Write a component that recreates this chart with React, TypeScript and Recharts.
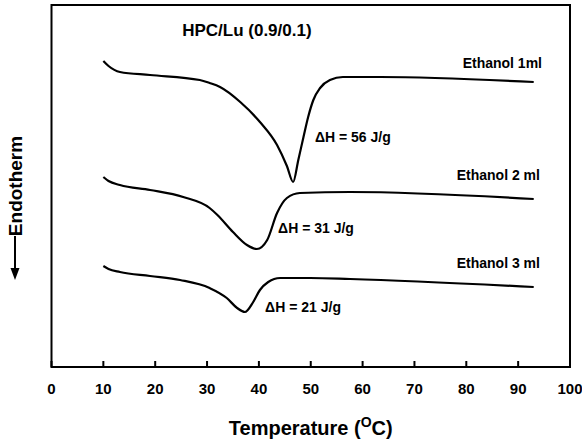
import {
  LineChart,
  Line,
  XAxis,
  YAxis,
  ReferenceArea,
  ReferenceDot,
} from "recharts";

// DSC thermograms, heat flow in arbitrary units vs temperature (°C)
const ethanol1 = [
  { t: 10, hf: 30.6 },
  { t: 11, hf: 30.1 },
  { t: 13.2, hf: 29.5 },
  { t: 19, hf: 29.2 },
  { t: 28.6, hf: 28.7 },
  { t: 30.5, hf: 28.4 },
  { t: 32.5, hf: 28.0 },
  { t: 36.4, hf: 26.5 },
  { t: 40.2, hf: 24.5 },
  { t: 43.5, hf: 22.2 },
  { t: 45.4, hf: 20.1 },
  { t: 46.6, hf: 18.5 },
  { t: 47.6, hf: 20.7 },
  { t: 48.6, hf: 23.0 },
  { t: 49.5, hf: 25.0 },
  { t: 50.5, hf: 26.7 },
  { t: 51.8, hf: 27.9 },
  { t: 53.7, hf: 28.7 },
  { t: 56.2, hf: 29.0 },
  { t: 63.4, hf: 29.0 },
  { t: 93, hf: 28.5 },
];

const ethanol2 = [
  { t: 10, hf: 19.0 },
  { t: 11, hf: 18.6 },
  { t: 13.2, hf: 18.2 },
  { t: 19, hf: 17.7 },
  { t: 25.4, hf: 17.0 },
  { t: 30.5, hf: 15.9 },
  { t: 32, hf: 15.2 },
  { t: 35, hf: 13.5 },
  { t: 37.7, hf: 12.2 },
  { t: 39.6, hf: 11.8 },
  { t: 41.6, hf: 12.7 },
  { t: 43.5, hf: 15.4 },
  { t: 45.4, hf: 16.9 },
  { t: 47.9, hf: 17.4 },
  { t: 57.6, hf: 17.5 },
  { t: 93, hf: 16.8 },
];

const ethanol3 = [
  { t: 10, hf: 10.1 },
  { t: 11, hf: 9.8 },
  { t: 13.2, hf: 9.5 },
  { t: 19, hf: 9.1 },
  { t: 24.8, hf: 8.7 },
  { t: 30.5, hf: 7.9 },
  { t: 33.8, hf: 6.9 },
  { t: 35.8, hf: 5.9 },
  { t: 37.3, hf: 5.5 },
  { t: 38.9, hf: 6.5 },
  { t: 40.2, hf: 7.7 },
  { t: 41.8, hf: 8.5 },
  { t: 44.1, hf: 8.9 },
  { t: 49.9, hf: 8.9 },
  { t: 57.6, hf: 8.8 },
  { t: 93, hf: 8.0 },
];

const xTicks = [0, 10, 20, 30, 40, 50, 60, 70, 80, 90, 100];
const yMax = 36.2;

// text annotations placed in data coordinates
const notes = [
  { t: 25.2, hf: 33.7, text: "HPC/Lu (0.9/0.1)", anchor: "start", size: 17 },
  { t: 94.6, hf: 30.4, text: "Ethanol 1ml", anchor: "end", size: 14 },
  { t: 94.2, hf: 19.2, text: "Ethanol 2 ml", anchor: "end", size: 14 },
  { t: 94.2, hf: 10.4, text: "Ethanol 3 ml", anchor: "end", size: 14 },
  { t: 50.8, hf: 23.0, text: "ΔH = 56 J/g", anchor: "start", size: 14 },
  { t: 43.7, hf: 13.9, text: "ΔH = 31 J/g", anchor: "start", size: 14 },
  { t: 41.2, hf: 6.0, text: "ΔH = 21 J/g", anchor: "start", size: 14 },
];

const FONT = '"Liberation Sans", Arial, sans-serif';

const XTick = (props: any) => {
  const { x, y, payload } = props;
  return (
    <g>
      <line x1={x} x2={x} y1={y} y2={y - 6} stroke="#000" strokeWidth={2} />
      <text
        x={x}
        y={y + 27}
        textAnchor="middle"
        fontFamily={FONT}
        fontWeight="bold"
        fontSize={15}
        fill="#000"
      >
        {payload.value}
      </text>
    </g>
  );
};

const XTitle = (props: any) => {
  const { viewBox } = props;
  const cx = viewBox.x + viewBox.width / 2;
  return (
    <text
      x={cx}
      y={viewBox.y + 68}
      textAnchor="middle"
      fontFamily={FONT}
      fontWeight="bold"
      fontSize={20}
      fill="#000"
    >
      Temperature (
      <tspan fontSize={14} dy={-8}>
        O
      </tspan>
      <tspan dy={8}>C)</tspan>
    </text>
  );
};

const YTitle = (props: any) => {
  const { viewBox } = props;
  const cx = 15;
  const cy = viewBox.y + viewBox.height / 2;
  return (
    <g>
      <text
        x={cx}
        y={cy}
        transform={`rotate(-90, ${cx}, ${cy})`}
        textAnchor="middle"
        dominantBaseline="central"
        fontFamily={FONT}
        fontWeight="bold"
        fontSize={19}
        fill="#000"
      >
        Endotherm
      </text>
      <line x1={cx} x2={cx} y1={cy + 50} y2={cy + 88} stroke="#000" strokeWidth={2} />
      <path
        d={`M${cx - 4.5},${cy + 82} L${cx},${cy + 94} L${cx + 4.5},${cy + 82} Z`}
        fill="#000"
      />
    </g>
  );
};

const noteLabel = (text: string, anchor: string, size: number) => (props: any) => {
  const { viewBox } = props;
  return (
    <text
      x={viewBox.x}
      y={viewBox.y}
      textAnchor={anchor}
      dominantBaseline="central"
      fontFamily={FONT}
      fontWeight="bold"
      fontSize={size}
      fill="#000"
    >
      {text}
    </text>
  );
};

export default function App() {
  return (
    <div style={{ position: "absolute", left: 0, top: 0, background: "#fff" }}>
      <LineChart
        width={582}
        height={440}
        margin={{ top: 5, right: 12, left: 0, bottom: 0 }}
      >
        <XAxis
          dataKey="t"
          type="number"
          domain={[0, 100]}
          ticks={xTicks}
          allowDuplicatedCategory={false}
          height={73}
          tickLine={false}
          tickSize={0}
          tickMargin={0}
          tick={<XTick />}
          axisLine={{ stroke: "#000", strokeWidth: 2 }}
          label={{ content: <XTitle /> }}
        />
        <YAxis
          type="number"
          domain={[0, yMax]}
          width={51.5}
          tick={false}
          tickLine={false}
          axisLine={false}
          label={{ content: <YTitle /> }}
        />
        <ReferenceArea
          x1={0}
          x2={100}
          y1={0}
          y2={yMax}
          fill="none"
          stroke="#000"
          strokeWidth={2}
          fillOpacity={0}
        />
        <Line
          data={ethanol1}
          dataKey="hf"
          type="monotone"
          stroke="#000"
          strokeWidth={2.2}
          dot={false}
          isAnimationActive={false}
        />
        <Line
          data={ethanol2}
          dataKey="hf"
          type="monotone"
          stroke="#000"
          strokeWidth={2.2}
          dot={false}
          isAnimationActive={false}
        />
        <Line
          data={ethanol3}
          dataKey="hf"
          type="monotone"
          stroke="#000"
          strokeWidth={2.2}
          dot={false}
          isAnimationActive={false}
        />
        {notes.map((n) => (
          <ReferenceDot
            key={n.text}
            x={n.t}
            y={n.hf}
            r={0}
            fill="none"
            stroke="none"
            label={{ content: noteLabel(n.text, n.anchor, n.size) }}
          />
        ))}
      </LineChart>
    </div>
  );
}
